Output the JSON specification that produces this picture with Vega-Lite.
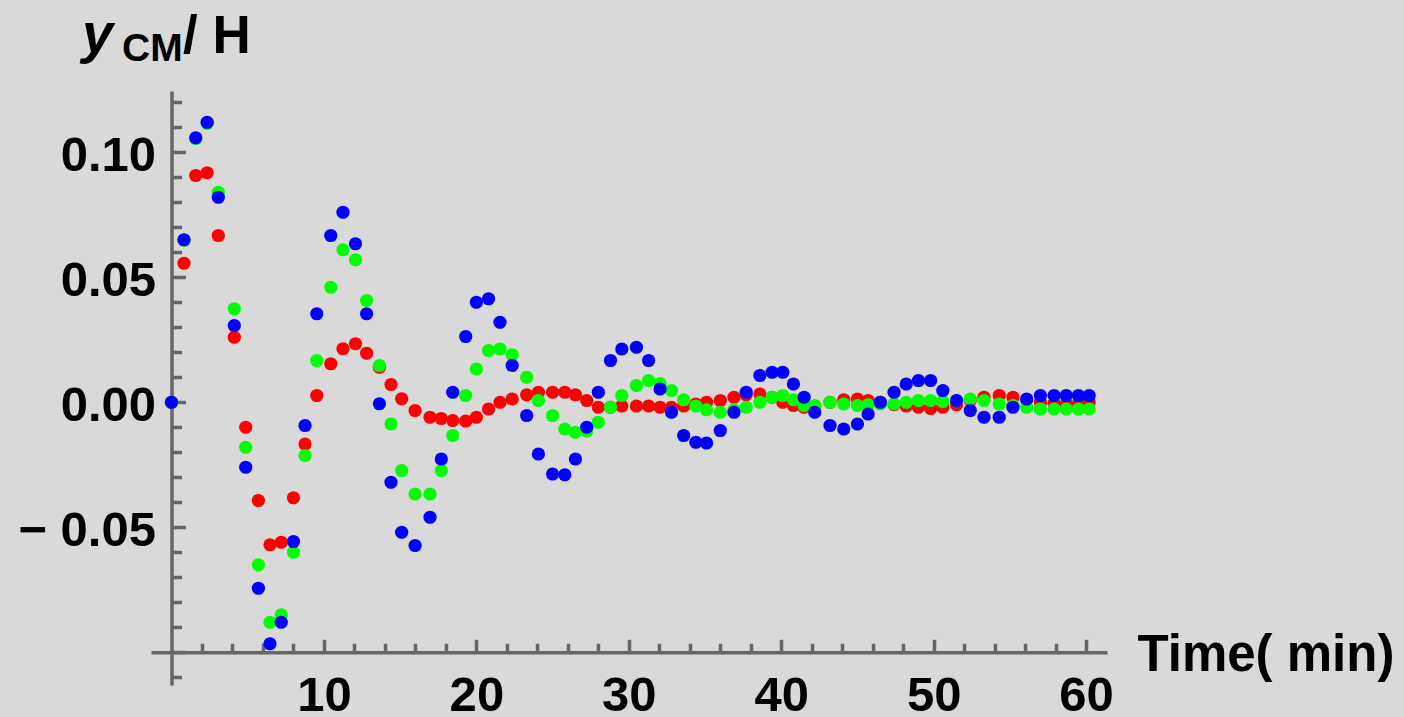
{
"$schema": "https://vega.github.io/schema/vega-lite/v6.json",
"width": 956, "height": 594,
"autosize": {"type": "none"},
"padding": {"left": 151, "top": 91, "right": 297, "bottom": 32},
"background": "#d9d9d9",
"config": {
  "view": {"stroke": null},
  "axis": {"grid": false, "domainColor": "#666666", "tickColor": "#666666", "domainWidth": 3.5, "tickWidth": 3.5,
    "labelFont": "Liberation Sans", "labelFontWeight": "bold", "labelFontSize": 49, "labelColor": "#000000",
    "titleFont": "Liberation Sans", "titleFontWeight": "bold", "titleFontSize": 49, "titleColor": "#000000",
    "zindex": 1, "labelLimit": 0, "titleLimit": 0}
},
"datasets": {"pts": [
{"t":0,"s":"R","v":0},{"t":0.82,"s":"R","v":0.0556},{"t":1.59,"s":"R","v":0.0907},{"t":2.34,"s":"R","v":0.0918},{"t":3.07,"s":"R","v":0.0667},{"t":4.12,"s":"R","v":0.026},{"t":4.87,"s":"R","v":-0.010},{"t":5.7,"s":"R","v":-0.0393},{"t":6.46,"s":"R","v":-0.057},{"t":7.2,"s":"R","v":-0.056},{"t":8.0,"s":"R","v":-0.0382},{"t":8.76,"s":"R","v":-0.0167},{"t":9.53,"s":"R","v":0.0027},{"t":10.45,"s":"R","v":0.0154},{"t":11.25,"s":"R","v":0.0214},{"t":12.07,"s":"R","v":0.0234},{"t":12.8,"s":"R","v":0.0196},{"t":13.64,"s":"R","v":0.014},{"t":14.4,"s":"R","v":0.0071},{"t":15.1,"s":"R","v":0.0014},{"t":15.98,"s":"R","v":-0.0033},{"t":16.96,"s":"R","v":-0.006},{"t":17.7,"s":"R","v":-0.0065},{"t":18.45,"s":"R","v":-0.0073},{"t":19.3,"s":"R","v":-0.0075},{"t":20.0,"s":"R","v":-0.006},{"t":20.8,"s":"R","v":-0.0027},{"t":21.55,"s":"R","v":0},{"t":22.35,"s":"R","v":0.0013},{"t":23.3,"s":"R","v":0.003},{"t":24.07,"s":"R","v":0.004},{"t":25.0,"s":"R","v":0.004},{"t":25.8,"s":"R","v":0.004},{"t":26.5,"s":"R","v":0.003},{"t":27.24,"s":"R","v":0.0007},{"t":28.0,"s":"R","v":-0.002},{"t":28.8,"s":"R","v":-0.002},{"t":29.54,"s":"R","v":-0.0015},{"t":30.5,"s":"R","v":-0.0015},{"t":31.3,"s":"R","v":-0.0015},{"t":32.05,"s":"R","v":-0.002},{"t":32.8,"s":"R","v":-0.002},{"t":33.6,"s":"R","v":-0.0015},{"t":34.4,"s":"R","v":-0.0007},{"t":35.1,"s":"R","v":0},{"t":36.0,"s":"R","v":0.0007},{"t":36.9,"s":"R","v":0.002},{"t":37.7,"s":"R","v":0.003},{"t":38.6,"s":"R","v":0.0033},{"t":39.4,"s":"R","v":0.002},{"t":40.1,"s":"R","v":0},{"t":40.8,"s":"R","v":-0.0013},{"t":41.5,"s":"R","v":-0.002},{"t":42.2,"s":"R","v":-0.0015},{"t":43.2,"s":"R","v":0},{"t":44.1,"s":"R","v":0.001},{"t":45.0,"s":"R","v":0.0013},{"t":45.7,"s":"R","v":0.0007},{"t":46.5,"s":"R","v":0},{"t":47.4,"s":"R","v":-0.001},{"t":48.2,"s":"R","v":-0.0015},{"t":49.0,"s":"R","v":-0.002},{"t":49.8,"s":"R","v":-0.0025},{"t":50.6,"s":"R","v":-0.002},{"t":51.5,"s":"R","v":-0.001},{"t":52.4,"s":"R","v":0.0007},{"t":53.3,"s":"R","v":0.002},{"t":54.3,"s":"R","v":0.0027},{"t":55.2,"s":"R","v":0.002},{"t":56.1,"s":"R","v":0.001},{"t":57.0,"s":"R","v":0},{"t":57.9,"s":"R","v":-0.0005},{"t":58.7,"s":"R","v":-0.0007},{"t":59.5,"s":"R","v":-0.0005},{"t":60.2,"s":"R","v":0},
{"t":0,"s":"G","v":0},{"t":0.82,"s":"G","v":0.0648},{"t":1.59,"s":"G","v":0.1055},{"t":2.34,"s":"G","v":0.1115},{"t":3.07,"s":"G","v":0.084},{"t":4.12,"s":"G","v":0.0374},{"t":4.87,"s":"G","v":-0.018},{"t":5.7,"s":"G","v":-0.065},{"t":6.46,"s":"G","v":-0.088},{"t":7.2,"s":"G","v":-0.085},{"t":8.0,"s":"G","v":-0.06},{"t":8.76,"s":"G","v":-0.0213},{"t":9.53,"s":"G","v":0.0167},{"t":10.45,"s":"G","v":0.046},{"t":11.25,"s":"G","v":0.061},{"t":12.07,"s":"G","v":0.057},{"t":12.8,"s":"G","v":0.0407},{"t":13.64,"s":"G","v":0.0147},{"t":14.4,"s":"G","v":-0.0087},{"t":15.1,"s":"G","v":-0.0273},{"t":15.98,"s":"G","v":-0.0367},{"t":16.96,"s":"G","v":-0.0367},{"t":17.7,"s":"G","v":-0.0273},{"t":18.45,"s":"G","v":-0.0133},{"t":19.3,"s":"G","v":0.0027},{"t":20.0,"s":"G","v":0.0133},{"t":20.8,"s":"G","v":0.0207},{"t":21.55,"s":"G","v":0.0213},{"t":22.35,"s":"G","v":0.019},{"t":23.3,"s":"G","v":0.01},{"t":24.07,"s":"G","v":0.0007},{"t":25.0,"s":"G","v":-0.0053},{"t":25.8,"s":"G","v":-0.0107},{"t":26.5,"s":"G","v":-0.012},{"t":27.24,"s":"G","v":-0.0115},{"t":28.0,"s":"G","v":-0.008},{"t":28.8,"s":"G","v":-0.002},{"t":29.54,"s":"G","v":0.0027},{"t":30.5,"s":"G","v":0.0067},{"t":31.3,"s":"G","v":0.0087},{"t":32.05,"s":"G","v":0.0075},{"t":32.8,"s":"G","v":0.0047},{"t":33.6,"s":"G","v":0.001},{"t":34.4,"s":"G","v":-0.0015},{"t":35.1,"s":"G","v":-0.003},{"t":36.0,"s":"G","v":-0.004},{"t":36.9,"s":"G","v":-0.003},{"t":37.7,"s":"G","v":-0.002},{"t":38.6,"s":"G","v":0},{"t":39.4,"s":"G","v":0.002},{"t":40.1,"s":"G","v":0.0027},{"t":40.8,"s":"G","v":0.001},{"t":41.5,"s":"G","v":-0.0013},{"t":42.2,"s":"G","v":-0.0013},{"t":43.2,"s":"G","v":0},{"t":44.1,"s":"G","v":-0.0007},{"t":45.0,"s":"G","v":-0.0013},{"t":45.7,"s":"G","v":-0.001},{"t":46.5,"s":"G","v":-0.0007},{"t":47.4,"s":"G","v":-0.0007},{"t":48.2,"s":"G","v":0},{"t":49.0,"s":"G","v":0.0007},{"t":49.8,"s":"G","v":0.0007},{"t":50.6,"s":"G","v":0.0003},{"t":51.5,"s":"G","v":0.0007},{"t":52.4,"s":"G","v":0.0013},{"t":53.3,"s":"G","v":0.0007},{"t":54.3,"s":"G","v":-0.0007},{"t":55.2,"s":"G","v":-0.0013},{"t":56.1,"s":"G","v":-0.002},{"t":57.0,"s":"G","v":-0.0027},{"t":57.9,"s":"G","v":-0.0027},{"t":58.7,"s":"G","v":-0.0027},{"t":59.5,"s":"G","v":-0.0027},{"t":60.2,"s":"G","v":-0.0027},
{"t":0,"s":"B","v":0},{"t":0.82,"s":"B","v":0.065},{"t":1.59,"s":"B","v":0.1058},{"t":2.34,"s":"B","v":0.112},{"t":3.07,"s":"B","v":0.082},{"t":4.12,"s":"B","v":0.0307},{"t":4.87,"s":"B","v":-0.026},{"t":5.7,"s":"B","v":-0.0744},{"t":6.46,"s":"B","v":-0.0966},{"t":7.2,"s":"B","v":-0.088},{"t":8.0,"s":"B","v":-0.0557},{"t":8.76,"s":"B","v":-0.0093},{"t":9.53,"s":"B","v":0.0354},{"t":10.45,"s":"B","v":0.0667},{"t":11.25,"s":"B","v":0.076},{"t":12.07,"s":"B","v":0.0634},{"t":12.8,"s":"B","v":0.0354},{"t":13.64,"s":"B","v":-0.0006},{"t":14.4,"s":"B","v":-0.032},{"t":15.1,"s":"B","v":-0.052},{"t":15.98,"s":"B","v":-0.0573},{"t":16.96,"s":"B","v":-0.046},{"t":17.7,"s":"B","v":-0.0227},{"t":18.45,"s":"B","v":0.004},{"t":19.3,"s":"B","v":0.0263},{"t":20.0,"s":"B","v":0.040},{"t":20.8,"s":"B","v":0.0414},{"t":21.55,"s":"B","v":0.032},{"t":22.35,"s":"B","v":0.0147},{"t":23.3,"s":"B","v":-0.0053},{"t":24.07,"s":"B","v":-0.0207},{"t":25.0,"s":"B","v":-0.0287},{"t":25.8,"s":"B","v":-0.029},{"t":26.5,"s":"B","v":-0.0227},{"t":27.24,"s":"B","v":-0.010},{"t":28.0,"s":"B","v":0.004},{"t":28.8,"s":"B","v":0.0167},{"t":29.54,"s":"B","v":0.0213},{"t":30.5,"s":"B","v":0.022},{"t":31.3,"s":"B","v":0.0167},{"t":32.05,"s":"B","v":0.0053},{"t":32.8,"s":"B","v":-0.004},{"t":33.6,"s":"B","v":-0.0133},{"t":34.4,"s":"B","v":-0.016},{"t":35.1,"s":"B","v":-0.0163},{"t":36.0,"s":"B","v":-0.0113},{"t":36.9,"s":"B","v":-0.004},{"t":37.7,"s":"B","v":0.004},{"t":38.6,"s":"B","v":0.0107},{"t":39.4,"s":"B","v":0.012},{"t":40.1,"s":"B","v":0.012},{"t":40.8,"s":"B","v":0.0073},{"t":41.5,"s":"B","v":0.002},{"t":42.2,"s":"B","v":-0.004},{"t":43.2,"s":"B","v":-0.0093},{"t":44.1,"s":"B","v":-0.0107},{"t":45.0,"s":"B","v":-0.0087},{"t":45.7,"s":"B","v":-0.0047},{"t":46.5,"s":"B","v":0},{"t":47.4,"s":"B","v":0.004},{"t":48.2,"s":"B","v":0.0073},{"t":49.0,"s":"B","v":0.0087},{"t":49.8,"s":"B","v":0.0087},{"t":50.6,"s":"B","v":0.0047},{"t":51.5,"s":"B","v":0.0007},{"t":52.4,"s":"B","v":-0.0033},{"t":53.3,"s":"B","v":-0.006},{"t":54.3,"s":"B","v":-0.006},{"t":55.2,"s":"B","v":-0.002},{"t":56.1,"s":"B","v":0.0013},{"t":57.0,"s":"B","v":0.0027},{"t":57.9,"s":"B","v":0.0027},{"t":58.7,"s":"B","v":0.0027},{"t":59.5,"s":"B","v":0.0027},{"t":60.2,"s":"B","v":0.0027}
]},
"data": {"name": "pts"},
"layer": [
  {
    "mark": {"type": "point", "filled": true, "opacity": 1, "size": 175, "strokeWidth": 0},
    "encoding": {
      "x": {"field": "t", "type": "quantitative",
        "scale": {"domain": [-1.345, 61.37], "nice": false, "zero": false},
        "axis": {"orient": "bottom", "offset": -32.75, "values": [10, 20, 30, 40, 50, 60], "format": "d",
          "tickSize": -13, "labelPadding": 32, "labelFlush": false, "labelOverlap": false,
          "title": "Time( min)", "titleFontSize": 51, "titleX": 986, "titleY": 18, "titleAlign": "left", "titleAnchor": "start", "titleBaseline": "alphabetic"}},
      "y": {"field": "v", "type": "quantitative",
        "scale": {"domain": [-0.1131, 0.1245], "nice": false, "zero": false},
        "axis": {"orient": "left", "offset": -20.5, "values": [-0.1, -0.05, 0, 0.05, 0.1],
          "tickSize": -14, "labelPadding": 30, "labelOffset": 3, "labelBaseline": "middle", "labelFlush": false, "labelOverlap": false,
          "labelExpr": "datum.value < -0.07 ? '' : (datum.value < -0.001 ? '\u2212 ' + format(-datum.value, '.2f') : format(abs(datum.value), '.2f'))",
          "title": "y", "titleFontSize": 56, "titleFontStyle": "italic", "titleAngle": 0, "titleX": -90, "titleY": -40, "titleAlign": "left", "titleAnchor": "start", "titleBaseline": "alphabetic"}},
      "color": {"field": "s", "type": "nominal", "scale": {"domain": ["R", "G", "B"], "range": ["#ff0000", "#00ff00", "#0000ff"]}, "legend": null}
    }
  },
  {
    "mark": {"type": "point", "opacity": 0},
    "encoding": {
      "x": {"field": "t", "type": "quantitative",
        "scale": {"domain": [-1.345, 61.37], "nice": false, "zero": false},
        "axis": {"orient": "bottom", "offset": -32.75, "values": [2,4,6,8,12,14,16,18,22,24,26,28,32,34,36,38,42,44,46,48,52,54,56,58],
          "tickSize": -9, "labels": false, "domain": false, "title": null}},
      "y": {"field": "v", "type": "quantitative",
        "scale": {"domain": [-0.1131, 0.1245], "nice": false, "zero": false},
        "axis": {"orient": "left", "offset": -20.5, "values": [-0.11,-0.09,-0.08,-0.07,-0.06,-0.04,-0.03,-0.02,-0.01,0.01,0.02,0.03,0.04,0.06,0.07,0.08,0.09,0.11,0.12],
          "tickSize": -10, "labels": false, "domain": false,
          "title": "CM", "titleFontSize": 39, "titleAngle": 0, "titleX": -50, "titleY": -31, "titleAlign": "left", "titleAnchor": "start", "titleBaseline": "alphabetic"}}
    }
  },
  {
    "mark": {"type": "point", "opacity": 0},
    "encoding": {
      "y": {"field": "v", "type": "quantitative",
        "scale": {"domain": [-0.1131, 0.1245], "nice": false, "zero": false},
        "axis": {"orient": "left", "offset": -20.5, "ticks": false, "labels": false, "domain": false,
          "title": "/ H", "titleFontSize": 53, "titleAngle": 0, "titleX": 11, "titleY": -39, "titleAlign": "left", "titleAnchor": "start", "titleBaseline": "alphabetic"}}
    }
  }
],
"resolve": {"axis": {"x": "independent", "y": "independent"}}
}
